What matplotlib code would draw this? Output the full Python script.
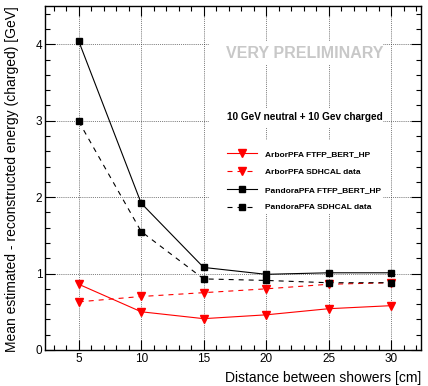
import matplotlib
matplotlib.use("Agg")
import matplotlib.pyplot as plt
from matplotlib.patches import Rectangle
from matplotlib.ticker import MultipleLocator

plt.rcParams["font.family"] = ["Liberation Sans", "DejaVu Sans"]

# distance between the two showers [cm]
distances = [5, 10, 15, 20, 25, 30]

# mean estimated - reconstructed charged energy [GeV]
arbor_sim = [0.86, 0.50, 0.41, 0.46, 0.54, 0.58]
arbor_data = [0.63, 0.70, 0.75, 0.80, 0.86, 0.88]
pandora_sim = [4.04, 1.92, 1.08, 0.99, 1.01, 1.01]
pandora_data = [2.99, 1.55, 0.93, 0.91, 0.88, 0.88]

series_labels = [
    "ArborPFA FTFP_BERT_HP",
    "ArborPFA SDHCAL data",
    "PandoraPFA FTFP_BERT_HP",
    "PandoraPFA SDHCAL data",
]

fig = plt.figure(figsize=(4.28, 3.86), dpi=100)
ax = fig.add_axes([45 / 428, 1 - 350 / 386, 376 / 428, 344 / 386])

dash = (0, (4.5, 4.5))
ax.plot(distances, arbor_sim, color="red", lw=0.8, marker="v", ms=5.2,
        label=series_labels[0], zorder=3)
ax.plot(distances, arbor_data, color="red", lw=0.8, ls=dash, marker="v", ms=5.2,
        label=series_labels[1], zorder=3)
ax.plot(distances, pandora_sim, color="black", lw=0.8, marker="s", ms=4.8,
        label=series_labels[2], zorder=3)
ax.plot(distances, pandora_data, color="black", lw=0.8, ls=dash, marker="s", ms=4.8,
        label=series_labels[3], zorder=3)

ax.set_xlim(2.3, 32.4)
ax.set_ylim(0, 4.5)
ax.xaxis.set_major_locator(MultipleLocator(5))
ax.xaxis.set_minor_locator(MultipleLocator(1))
ax.yaxis.set_major_locator(MultipleLocator(1))
ax.yaxis.set_minor_locator(MultipleLocator(0.2))
ax.tick_params(which="both", direction="in", top=True, right=True,
               labelsize=8.5, width=0.8)
ax.tick_params(which="major", length=7)
ax.tick_params(which="minor", length=3.5)
ax.tick_params(axis="x", pad=2)
ax.tick_params(axis="y", pad=2)
for s in ax.spines.values():
    s.set_linewidth(1.0)

ax.grid(True, which="major", color="#333333", lw=0.55, ls=(0, (1, 1.5)))

ax.set_xlabel("Distance between showers [cm]", fontsize=10, loc="right")
ax.set_ylabel("Mean estimated - reconstructed energy (charged) [GeV]",
              fontsize=10, loc="top")
ax.xaxis.set_label_coords(1.0, -0.06)
ax.yaxis.set_label_coords(-0.068, 1.0)

# white panels hiding the grid behind the annotations
for y0, y1 in [(0.828, 0.898), (0.645, 0.703), (0.395, 0.610)]:
    ax.add_patch(Rectangle((0.436, y0), 0.463, y1 - y0, transform=ax.transAxes,
                           facecolor="white", edgecolor="none", zorder=1.6))

ax.text(0.691, 0.863, "VERY PRELIMINARY", transform=ax.transAxes,
        ha="center", va="center", fontsize=11.5, fontweight="bold",
        color="#c8c8c8", zorder=4)
ax.text(0.690, 0.676, "10 GeV neutral + 10 Gev charged", transform=ax.transAxes,
        ha="center", va="center", fontsize=7.2, fontweight="bold", zorder=4)

leg = ax.legend(loc="upper left", bbox_to_anchor=(0.485, 0.581),
                frameon=False, prop={"size": 6.0, "weight": "bold"},
                handlelength=3.6, handletextpad=0.95, labelspacing=1.2,
                borderpad=0, borderaxespad=0)

fig.savefig("out.png", dpi=100)
